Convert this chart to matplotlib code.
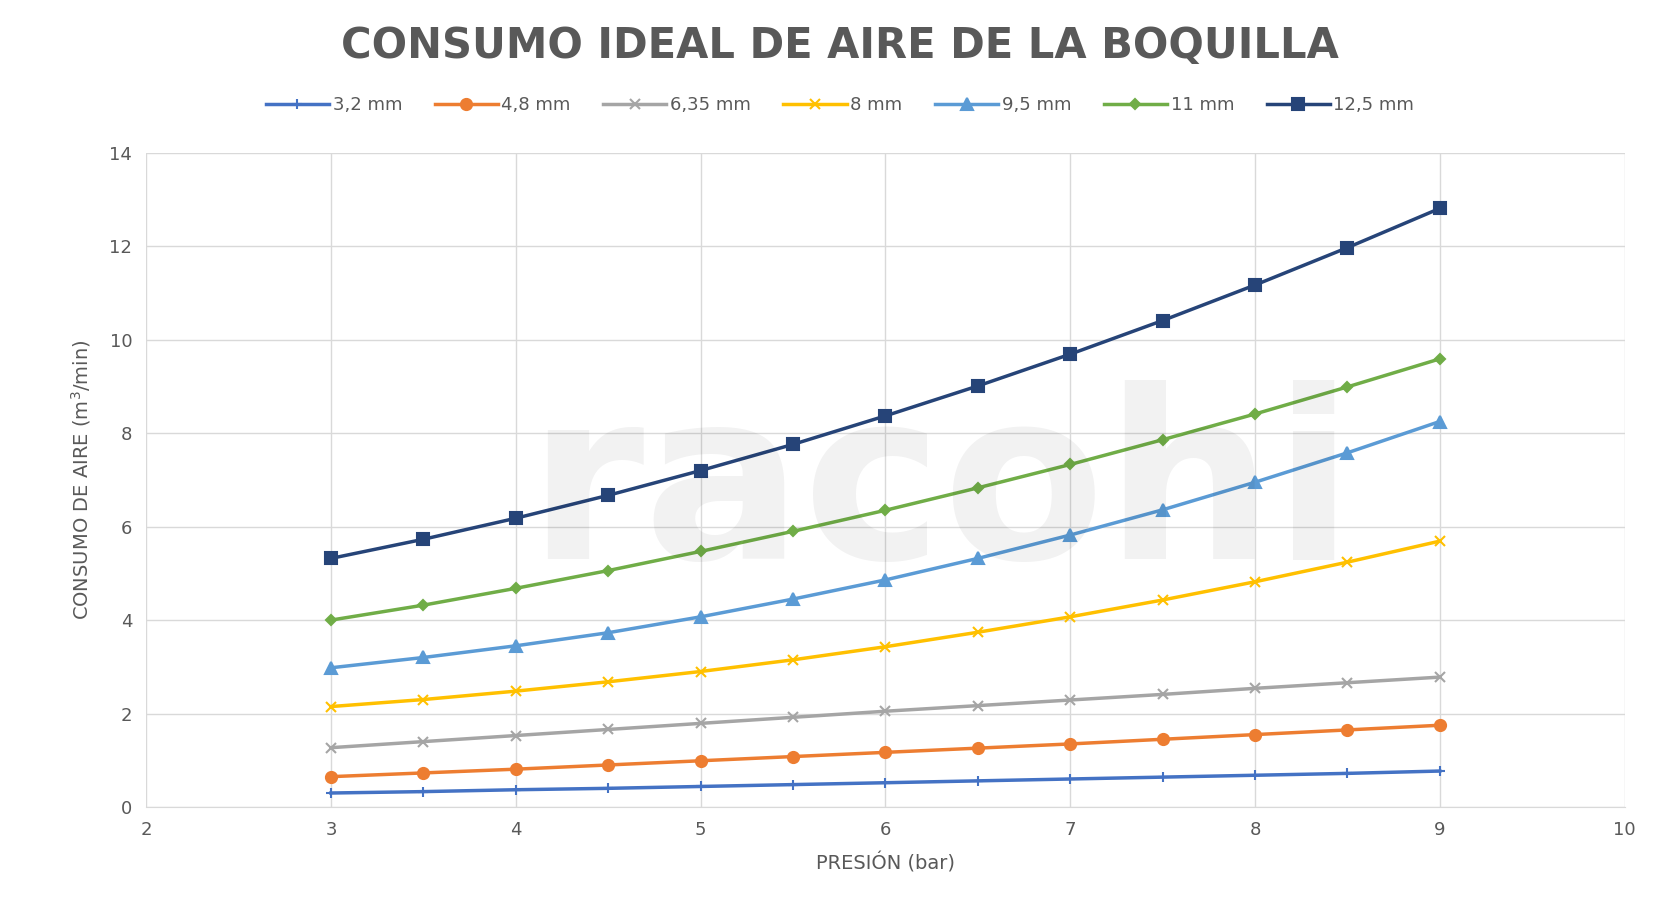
import matplotlib
matplotlib.use("Agg")
import matplotlib.pyplot as plt

presion = [3, 3.5, 4, 4.5, 5, 5.5, 6, 6.5, 7, 7.5, 8, 8.5, 9]
series_names = ["3,2 mm", "4,8 mm", "6,35 mm", "8 mm", "9,5 mm", "11 mm", "12,5 mm"]
d32 = [0.30, 0.33, 0.37, 0.40, 0.44, 0.48, 0.52, 0.56, 0.60, 0.64, 0.68, 0.72, 0.77]
d48 = [0.65, 0.73, 0.81, 0.90, 0.99, 1.08, 1.17, 1.26, 1.35, 1.45, 1.55, 1.65, 1.75]
d635 = [1.27, 1.40, 1.53, 1.66, 1.79, 1.92, 2.05, 2.17, 2.29, 2.41, 2.54, 2.66, 2.78]
d8 = [2.15, 2.30, 2.48, 2.68, 2.90, 3.15, 3.43, 3.74, 4.07, 4.43, 4.82, 5.24, 5.69]
d95 = [2.98, 3.20, 3.45, 3.73, 4.07, 4.45, 4.86, 5.32, 5.82, 6.36, 6.95, 7.58, 8.25]
d11 = [4.00, 4.32, 4.68, 5.06, 5.47, 5.90, 6.35, 6.83, 7.33, 7.86, 8.41, 8.99, 9.59]
d125 = [5.32, 5.73, 6.18, 6.67, 7.20, 7.76, 8.37, 9.01, 9.69, 10.41, 11.17, 11.97, 12.81]
values = [d32, d48, d635, d8, d95, d11, d125]

colors = ["#4472C4", "#ED7D31", "#A5A5A5", "#FFC000", "#5B9BD5", "#70AD47", "#264478"]
markers = ["+", "o", "x", "x", "^", "D", "s"]
msizes = [7, 8, 7, 7, 8, 5, 8]

fig = plt.figure(figsize=(16.8, 9.15), dpi=100)
ax = fig.add_axes([0.087, 0.118, 0.88, 0.715])

# faint watermark
fig.text(0.56, 0.46, "racohi", fontsize=170, fontweight="bold", color="#000000",
         alpha=0.05, ha="center", va="center", zorder=0)

for name, vals, c, m, ms in zip(series_names, values, colors, markers, msizes):
    ax.plot(presion, vals, color=c, marker=m, markersize=ms, linewidth=2.5,
            markeredgewidth=1.5, label=name)

ax.set_xlim(2, 10)
ax.set_ylim(0, 14)
ax.set_xticks(range(2, 11))
ax.set_yticks(range(0, 15, 2))
ax.grid(True, color="#D9D9D9", linewidth=1)
for s in ["top", "left", "right"]:
    ax.spines[s].set_visible(False)
ax.spines["bottom"].set_color("#D9D9D9")
ax.tick_params(length=0, labelsize=13, colors="#595959", pad=10)
ax.set_xlabel("PRESIÓN (bar)", fontsize=14, color="#595959", labelpad=10)
ax.set_ylabel("CONSUMO DE AIRE (m$^3$/min)", fontsize=14, color="#595959", labelpad=12)

fig.text(0.5, 0.95, "CONSUMO IDEAL DE AIRE DE LA BOQUILLA",
         ha="center", va="center", fontsize=30, fontweight="bold", color="#595959")
fig.legend(loc="center", bbox_to_anchor=(0.5, 0.885), ncol=7, frameon=False,
           fontsize=13, labelcolor="#595959", handlelength=3.5, columnspacing=1.8,
           handletextpad=0.2)

fig.savefig("out.png", dpi=100, facecolor="white")
